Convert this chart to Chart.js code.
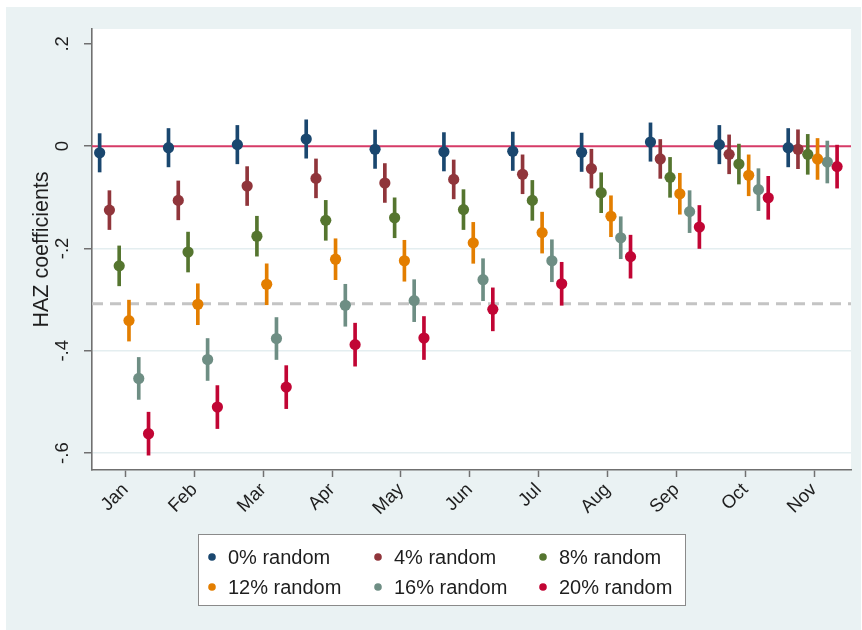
<!DOCTYPE html>
<html>
<head>
<meta charset="utf-8">
<script src="https://cdn.jsdelivr.net/npm/chart.js@4.4.1/dist/chart.umd.min.js"></script>
<style>
  html, body { margin: 0; padding: 0; background: #ffffff; }
  #c { display: block; }
</style>
</head>
<body>
<canvas id="c" width="862" height="630"></canvas>
<script>
// ---------------- data ----------------
const months = ['Jan','Feb','Mar','Apr','May','Jun','Jul','Aug','Sep','Oct','Nov'];
const seriesLabels = ['0% random','4% random','8% random','12% random','16% random','20% random'];

const r0  = [-0.013, -0.003,  0.003,  0.014, -0.006, -0.011, -0.010, -0.012,  0.008,  0.003, -0.003];
const r4  = [-0.125, -0.106, -0.078, -0.063, -0.072, -0.065, -0.055, -0.044, -0.025, -0.016, -0.006];
const r8  = [-0.234, -0.207, -0.176, -0.145, -0.140, -0.124, -0.106, -0.091, -0.061, -0.035, -0.016];
const r12 = [-0.341, -0.309, -0.270, -0.221, -0.224, -0.189, -0.169, -0.137, -0.093, -0.057, -0.025];
const r16 = [-0.454, -0.417, -0.376, -0.311, -0.302, -0.261, -0.224, -0.179, -0.128, -0.085, -0.031];
const r20 = [-0.562, -0.510, -0.471, -0.388, -0.375, -0.319, -0.269, -0.216, -0.158, -0.101, -0.040];

// half-width of the confidence interval for each series
const ciHalf = [0.0375, 0.038, 0.039, 0.040, 0.041, 0.042];

const yTicks = [0.2, 0, -0.2, -0.4, -0.6];
const yTickLabels = ['.2', '0', '-.2', '-.4', '-.6'];
const yGridTicks = [-0.2, -0.4, -0.6];
const refZero = 0;
const refDashed = -0.308;
const yTitle = 'HAZ coefficients';

// ---------------- style ----------------
const colors = ['#1A476F', '#90353B', '#55752F', '#E37E00', '#6E8E84', '#C10534'];
const allSeries = [r0, r4, r8, r12, r16, r20];
const offStart = -0.375, offStep = 0.142;
const xMin = 0.514, xMax = 11.537;
const FONT = "'Liberation Sans', Arial, sans-serif";

Chart.defaults.font.family = FONT;
Chart.defaults.color = '#1e1e1e';

const datasets = [];
allSeries.forEach((vals, s) => {
  const off = offStart + s * offStep;
  datasets.push({
    type: 'scatter',
    label: seriesLabels[s],
    data: vals.map((v, i) => ({ x: i + 1 + off, y: v })),
    backgroundColor: colors[s],
    borderColor: colors[s],
    borderWidth: 0,
    pointRadius: 5.6,
    pointHoverRadius: 5.6,
    order: 0
  });
});
allSeries.forEach((vals, s) => {
  const off = offStart + s * offStep;
  datasets.push({
    type: 'bar',
    label: seriesLabels[s] + ' CI',
    data: vals.map((v, i) => ({ x: i + 1 + off, y: [v - ciHalf[s], v + ciHalf[s]] })),
    backgroundColor: colors[s],
    borderWidth: 0,
    barThickness: 3,
    grouped: false,
    order: 1
  });
});
datasets.push({
  type: 'line',
  label: 'zero',
  data: [{ x: xMin, y: refZero }, { x: xMax, y: refZero }],
  borderColor: '#D63B67',
  borderWidth: 2,
  pointRadius: 0,
  order: 2
});
datasets.push({
  type: 'line',
  label: 'dashed',
  data: [{ x: xMin, y: refDashed }, { x: xMax, y: refDashed }],
  borderColor: '#C4C4C4',
  borderWidth: 3,
  borderDash: [11, 7],
  pointRadius: 0,
  order: 3
});

const bgPlugin = {
  id: 'bg',
  beforeDraw(chart) {
    const { ctx, chartArea: a } = chart;
    ctx.save();
    ctx.fillStyle = '#ffffff';
    ctx.fillRect(0, 0, chart.width, chart.height);
    ctx.fillStyle = '#EAF2F3';
    ctx.fillRect(6, 7, 855, 623);
    ctx.fillStyle = '#ffffff';
    ctx.fillRect(a.left, a.top, a.right - a.left, a.bottom - a.top);
    ctx.restore();
  }
};

const legendPlugin = {
  id: 'boxLegend',
  afterDraw(chart) {
    const { ctx } = chart;
    const box = { x: 198, y: 534, w: 487, h: 71 };
    ctx.save();
    ctx.fillStyle = '#ffffff';
    ctx.fillRect(box.x, box.y, box.w, box.h);
    ctx.strokeStyle = '#8a8a8a';
    ctx.lineWidth = 1;
    ctx.strokeRect(box.x + 0.5, box.y + 0.5, box.w, box.h);
    const colX = [212, 378, 543];
    const rowY = [557, 587];
    ctx.font = '20px ' + FONT;
    ctx.textBaseline = 'middle';
    ctx.textAlign = 'left';
    chart.data.datasets.filter(d => d.type === 'scatter').forEach((d, i) => {
      const cx = colX[i % 3], cy = rowY[Math.floor(i / 3)];
      ctx.fillStyle = d.backgroundColor;
      ctx.beginPath();
      ctx.arc(cx, cy, 3.8, 0, Math.PI * 2);
      ctx.fill();
      ctx.fillStyle = '#1e1e1e';
      ctx.fillText(d.label, cx + 16, cy + 1);
    });
    ctx.restore();
  }
};

new Chart(document.getElementById('c'), {
  type: 'scatter',
  data: { datasets },
  options: {
    responsive: false,
    animation: false,
    devicePixelRatio: 1,
    layout: { padding: { left: 6, right: 11, top: 29, bottom: 100 } },
    plugins: {
      legend: { display: false },
      tooltip: { enabled: false }
    },
    scales: {
      x: {
        type: 'linear',
        min: xMin,
        max: xMax,
        offset: false,
        afterBuildTicks: (scale) => { scale.ticks = months.map((m, i) => ({ value: i + 1 })); },
        afterFit: (scale) => { scale.height = 60; },
        ticks: {
          autoSkip: false,
          minRotation: 45,
          maxRotation: 45,
          padding: 2,
          font: { size: 18.5 },
          color: '#1e1e1e',
          callback: (v) => months[Math.round(v) - 1]
        },
        grid: { offset: false, drawOnChartArea: false, drawTicks: true, tickLength: 7, tickColor: '#707070', tickWidth: 1.5 },
        border: { color: '#707070', width: 1.6 }
      },
      y: {
        type: 'linear',
        min: -0.633,
        max: 0.229,
        afterBuildTicks: (scale) => { scale.ticks = yTicks.map(v => ({ value: v })); },
        afterFit: (scale) => { scale.width = 86; },
        ticks: {
          minRotation: 90,
          maxRotation: 90,
          crossAlign: 'center',
          padding: 10,
          font: { size: 18.5 },
          color: '#1e1e1e',
          callback: (v) => yTickLabels[yTicks.findIndex(t => Math.abs(t - v) < 1e-9)]
        },
        title: {
          display: true,
          text: yTitle,
          font: { size: 21.5 },
          color: '#1e1e1e',
          padding: { top: 23, bottom: 0 }
        },
        grid: {
          color: (c) => (c.tick && yGridTicks.some(t => Math.abs(t - c.tick.value) < 1e-9)) ? '#E4EEF0' : 'rgba(0,0,0,0)',
          lineWidth: 1.5,
          drawTicks: true,
          tickLength: 8,
          tickColor: '#707070',
          tickWidth: 1.5
        },
        border: { color: '#707070', width: 1.6 }
      }
    }
  },
  plugins: [bgPlugin, legendPlugin]
});
</script>
</body>
</html>
